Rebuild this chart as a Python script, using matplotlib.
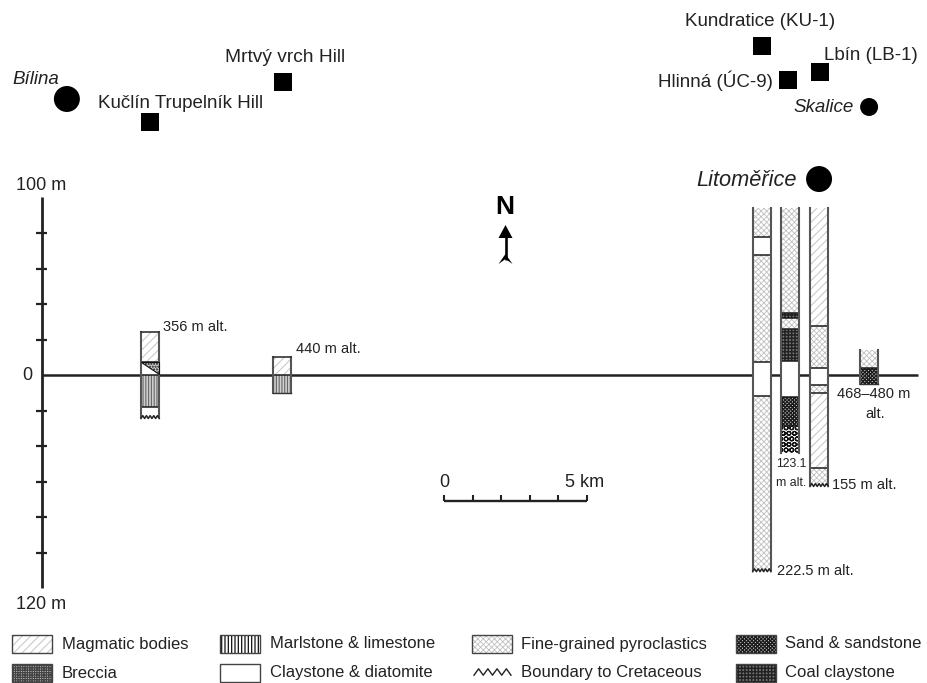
import numpy as np
import matplotlib
matplotlib.use('Agg')
import matplotlib.pyplot as plt
from matplotlib.patches import Rectangle, Polygon

plt.rcParams['font.family'] = ['Liberation Sans', 'DejaVu Sans']

# map sites: km east of the height axis, and height on the same scale as the logs
square_names = ['Kučlín', 'Mrtvý vrch', 'Kundratice', 'Hlinná', 'Lbín']
square_x = [3.78, 8.41, 25.16, 26.08, 27.19]
square_y = [142.8, 165.1, 185.4, 166.2, 170.7]
circle_names = ['Bílina', 'Skalice', 'Litoměřice']
circle_x = [0.87, 28.92, 27.17]
circle_y = [155.5, 151, 110.4]
circle_size = [350, 168, 350]

# borehole logs: centre (km), layer boundaries (m, top down), rock of each layer
log_x = [3.78, 8.39, 25.17, 26.15, 27.17, 28.92]
log_names = ['Kuclin', 'Mrtvy', 'KU-1', 'UC-9', 'LB-1', 'Skalice']
log_depths = [
    [24.2, 7.3, 0, -18, -23.7],
    [10.1, 0, -10.1],
    [94, 77.7, 67.6, 7.3, -11.8, -110],
    [94, 34.9, 32, 25.9, 7.9, -12.4, -28.7, -44],
    [94, 27.6, 3.9, -5.6, -10.1, -52.4, -62],
    [14, 3.9, -5],
]
log_rocks = [
    ['magmatic', 'clay', 'marl', 'clay'],
    ['magmatic', 'marl'],
    ['fine', 'clay', 'fine', 'clay', 'fine'],
    ['fine', 'coal', 'fine', 'coal', 'clay', 'sand', 'congl'],
    ['magmatic', 'fine', 'clay', 'fine', 'magmatic', 'fine'],
    ['fine', 'sand'],
]
log_open_top = [False, False, True, True, True, True]
log_wavy = [True, False, True, False, True, False]

y_ticks = [80, 60, 40, 20, -20, -40, -60, -80, -100]

hatches = {
    'magmatic': dict(hatch='////', hc='#c4c4c4', fc='white', hl=0.7),
    'marl': dict(hatch='||||||', hc='#666666', fc='#cfcfcf', hl=0.8),
    'marl_key': dict(hatch='|||||', hc='#111111', fc='white', hl=0.9),
    'fine': dict(hatch='xxxxxx', hc='#c0c0c0', fc='white', hl=0.6),
    'clay': dict(hatch=None, hc='black', fc='white', hl=0.5),
    'sand': dict(hatch='xxxxxxxxx', hc='#1c1c1c', fc='#d0d0d0', hl=1.0),
    'breccia': dict(hatch='+++++++', hc='#444444', fc='#bbbbbb', hl=0.9),
    'coal': dict(hatch='+++++', hc='#222222', fc='#777777', hl=1.1),
    'congl': dict(hatch='OOO', hc='#111111', fc='white', hl=0.9),
}

legend_rows = [
    (12, 644, 'magmatic', 'Magmatic bodies'),
    (12, 673, 'breccia', 'Breccia'),
    (220, 644, 'marl_key', 'Marlstone & limestone'),
    (220, 673, 'clay', 'Claystone & diatomite'),
    (472, 644, 'fine', 'Fine-grained pyroclastics'),
    (736, 644, 'sand', 'Sand & sandstone'),
    (736, 673, 'coal', 'Coal claystone'),
]

PX_KM = 28.6
PX_M = 1.775
X0, Y0 = 42, 375


def px_x(px):
    return (px - X0) / PX_KM


def px_y(py):
    return (Y0 - py) / PX_M


def rock_patch(x0, y0, w, h, rock, **kw):
    st = hatches[rock]
    p = Rectangle((x0, y0), w, h, facecolor=st['fc'], edgecolor=st['hc'], lw=0,
                  hatch=st['hatch'], **kw)
    p.set_hatch_linewidth(st['hl'])
    return p


def zigzag(xc, w, y, n=5, amp=1.6):
    xs = np.linspace(xc - w / 2, xc + w / 2, 2 * n + 1)
    ys = y + amp * (np.arange(2 * n + 1) % 2 - 0.5)
    return xs, ys


fig = plt.figure(figsize=(9.28, 6.83), dpi=100)
ax = fig.add_axes([0, 0, 1, 1])
ax.set_xlim(px_x(0), px_x(928))
ax.set_ylim(px_y(683), px_y(0))
ax.axis('off')

# height axis and the zero line
ax.plot([0, 0], [px_y(197), px_y(588)], color='#222222', lw=2, solid_capstyle='butt', zorder=1)
ax.plot([0, px_x(918)], [0, 0], color='#222222', lw=1.8, solid_capstyle='butt', zorder=1)
for t in y_ticks:
    ax.plot([px_x(36), px_x(47)], [t, t], color='#222222', lw=1.6, solid_capstyle='butt')
ax.text(px_x(41), px_y(185), '100 m', fontsize=13, ha='center', va='center', color='#222222')
ax.text(px_x(27), px_y(375), '0', fontsize=13, ha='center', va='center', color='#222222')
ax.text(px_x(41), px_y(604), '120 m', fontsize=13, ha='center', va='center', color='#222222')

# logs
w = 18.3 / PX_KM
for xc, depths, rocks, open_top, wavy in zip(log_x, log_depths, log_rocks, log_open_top, log_wavy):
    for top, bot, rock in zip(depths[:-1], depths[1:], rocks):
        ax.add_patch(rock_patch(xc - w / 2, bot, w, top - bot, rock, zorder=2))
    for d in depths[1:-1]:
        ax.plot([xc - w / 2, xc + w / 2], [d, d], color='#1a1a1a', lw=1.1, zorder=3,
                solid_capstyle='butt')
    ax.plot([xc - w / 2] * 2, [depths[0], depths[-1]], color='#555555', lw=1.5, zorder=3)
    ax.plot([xc + w / 2] * 2, [depths[0], depths[-1]], color='#555555', lw=1.5, zorder=3)
    if not open_top:
        ax.plot([xc - w / 2, xc + w / 2], [depths[0]] * 2, color='#333333', lw=1.2, zorder=3)
    if wavy:
        zx, zy = zigzag(xc, w, depths[-1])
        ax.plot(zx, zy, color='#222222', lw=1.1, zorder=3)
    elif not open_top or depths[-1] > -30:
        ax.plot([xc - w / 2, xc + w / 2], [depths[-1]] * 2, color='#333333', lw=1.0, zorder=3)

# small sand wedge in the Kučlín log
xc = log_x[0]
ax.add_patch(Polygon([(xc - w / 2, 7.3), (xc + w / 2, 7.3), (xc + w / 2, 0.3)], closed=True,
                     facecolor='#cccccc', edgecolor='#111111', lw=0.8, hatch='......', zorder=3))

# map symbols
ax.scatter(square_x, square_y, marker='s', s=187, color='black', lw=0, zorder=4)
ax.scatter(circle_x, circle_y, marker='o', s=circle_size, color='black', lw=0, zorder=4)

txt = dict(color='#222222', va='center')
ax.text(px_x(285.5), px_y(58), 'Mrtvý vrch Hill', fontsize=13.8, ha='center', **txt)
ax.text(px_x(181), px_y(103), 'Kučlín Trupelník Hill', fontsize=13.5, ha='center', **txt)
ax.text(px_x(36), px_y(79), 'Bílina', fontsize=13.5, style='italic', ha='center', **txt)
ax.text(px_x(760), px_y(22), 'Kundratice (KU-1)', fontsize=13.5, ha='center', **txt)
ax.text(px_x(871), px_y(55), 'Lbín (LB-1)', fontsize=13.5, ha='center', **txt)
ax.text(px_x(715), px_y(81), 'Hlinná (ÚC-9)', fontsize=13.5, ha='center', **txt)
ax.text(px_x(824), px_y(108), 'Skalice', fontsize=13.5, style='italic', ha='center', **txt)
ax.text(px_x(747), px_y(180), 'Litoměřice', fontsize=15.7, style='italic', ha='center', **txt)

ax.text(px_x(163), px_y(327), '356 m alt.', fontsize=10.5, ha='left', **txt)
ax.text(px_x(296), px_y(349), '440 m alt.', fontsize=10.5, ha='left', **txt)
ax.text(px_x(874), px_y(394), '468–480 m', fontsize=10.5, ha='center', **txt)
ax.text(px_x(875), px_y(414), 'alt.', fontsize=10.5, ha='center', **txt)
ax.text(px_x(791), px_y(464), '123.1', fontsize=8.8, ha='center', **txt)
ax.text(px_x(791), px_y(483), 'm alt.', fontsize=8.8, ha='center', **txt)
ax.text(px_x(864), px_y(485), '155 m alt.', fontsize=10.5, ha='center', **txt)
ax.text(px_x(815), px_y(571), '222.5 m alt.', fontsize=10.5, ha='center', **txt)

# north arrow
ax.text(px_x(505), px_y(207), 'N', fontsize=19, weight='bold', ha='center', va='center', color='black')
ax.plot([px_x(505.5)] * 2, [px_y(236), px_y(260)], color='black', lw=1.9, zorder=2,
        solid_capstyle='butt')
ax.add_patch(Polygon([(px_x(505.5), px_y(225)), (px_x(498.5), px_y(238)), (px_x(512.5), px_y(238))],
                     closed=True, color='black', lw=0))
ax.add_patch(Polygon([(px_x(505.5), px_y(254)), (px_x(512.5), px_y(264)), (px_x(505.5), px_y(259)),
                      (px_x(498.5), px_y(264))], closed=True, color='black', lw=0))

# scale bar, 0 to 5 km
sb0 = px_x(444)
sb_y = px_y(501)
ax.plot([sb0, sb0 + 5], [sb_y, sb_y], color='#222222', lw=1.7, solid_capstyle='butt')
for k in range(6):
    ax.plot([sb0 + k, sb0 + k], [sb_y, px_y(495)], color='#222222', lw=1.5, solid_capstyle='butt')
ax.text(px_x(444), px_y(482), '0', fontsize=13, ha='center', va='center', color='#222222')
ax.text(px_x(585), px_y(482), '5 km', fontsize=13, ha='center', va='center', color='#222222')

# legend
for lx, ly, rock, label in legend_rows:
    ax.add_patch(rock_patch(px_x(lx), px_y(ly + 9), 40 / PX_KM, 18 / PX_M, rock, zorder=2))
    ax.add_patch(Rectangle((px_x(lx), px_y(ly + 9)), 40 / PX_KM, 18 / PX_M, fill=False,
                           edgecolor='#444444', lw=1.0, zorder=3))
    tx = lx + 50 if lx < 472 else lx + 49
    ax.text(px_x(tx), px_y(ly), label, fontsize=12, ha='left', va='center', color='#222222')
zx = np.linspace(px_x(474), px_x(511), 9)
zy = px_y(672) + 3.6 * (np.arange(9) % 2 - 0.5)
ax.plot(zx, zy, color='#222222', lw=1.0)
ax.text(px_x(521), px_y(673), 'Boundary to Cretaceous', fontsize=12, ha='left', va='center',
        color='#222222')

fig.savefig('out.png', dpi=100)
